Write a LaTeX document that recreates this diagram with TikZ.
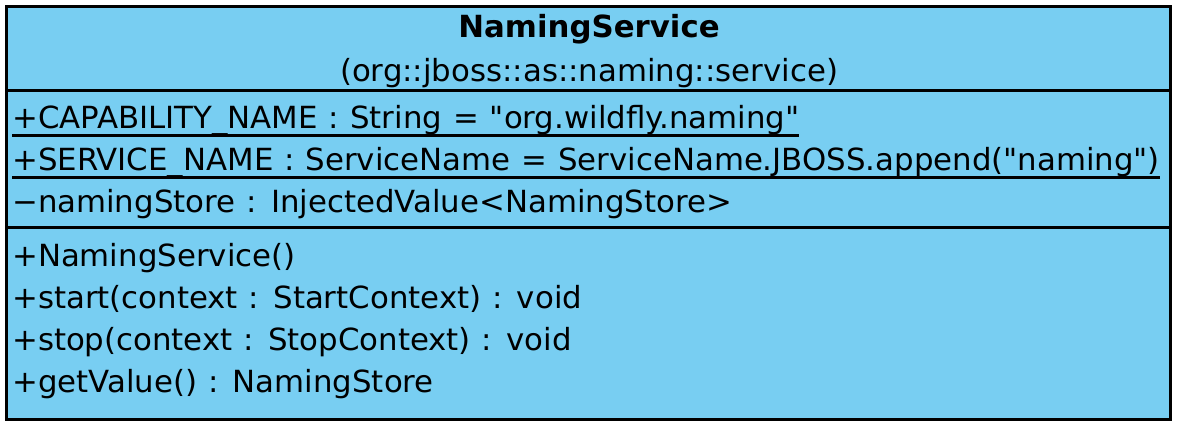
\documentclass[tikz,border=0pt]{standalone}
\usepackage{fontspec}
\setmainfont{DejaVu Sans}[FakeStretch=1.01,WordSpace=1.12]
\definecolor{classblue}{RGB}{120,206,242}

\begin{document}
\begin{tikzpicture}[x=1pt,y=-1pt]
    \tikzset{member/.style = {anchor=base west,inner sep=0pt,font=\fontsize{30.5}{36}\selectfont}}
    \tikzset{heading/.style = {anchor=base,inner sep=0pt,font=\fontsize{30.5}{36}\selectfont}}
    \tikzset{rule/.style = {line width=3pt}}
    \tikzset{uline/.style = {line width=2.5pt}}
    \useasboundingbox (0,0) rectangle (1182,432);
    % class box
    \draw[rule,fill=classblue] (6,6) rectangle (1170,419);
    \coordinate (sepAl) at (6,90.5);
    \coordinate (sepAr) at (1170,90.5);
    \coordinate (sepBl) at (6,227.5);
    \coordinate (sepBr) at (1170,227.5);
    \draw[rule] (sepAl) -- (sepAr);
    \draw[rule] (sepBl) -- (sepBr);
    % name
    \node[heading,font=\fontsize{30.5}{36}\selectfont\bfseries] (ns) at (589,37.5) {NamingService};
    \node[heading] (pkg) at (589,81) {(org::jboss::as::naming::service)};
    % attributes
    \node[member] (cap) at (12,128.5) {+CAPABILITY\_NAME : String = \textquotedbl org.wildfly.naming\textquotedbl};
    \node[member] (svc) at (12,170.5) {+SERVICE\_NAME : ServiceName = ServiceName.JBOSS.append(\textquotedbl naming\textquotedbl)};
    \node[member] (store) at (12,212.5) {−namingStore : InjectedValue<NamingStore>};
    \draw[uline] ([yshift=-7pt]cap.base west) -- ([yshift=-7pt]cap.base east);
    \draw[uline] ([yshift=-7pt]svc.base west) -- ([yshift=-7pt]svc.base east);
    % operations
    \node[member] (ctor) at (12,266.5) {+NamingService()};
    \node[member] (start) at (12,308.5) {+start(context : StartContext) : void};
    \node[member] (stop) at (12,350.5) {+stop(context : StopContext) : void};
    \node[member] (getval) at (12,392.5) {+getValue() : NamingStore};
\end{tikzpicture}
\end{document}
